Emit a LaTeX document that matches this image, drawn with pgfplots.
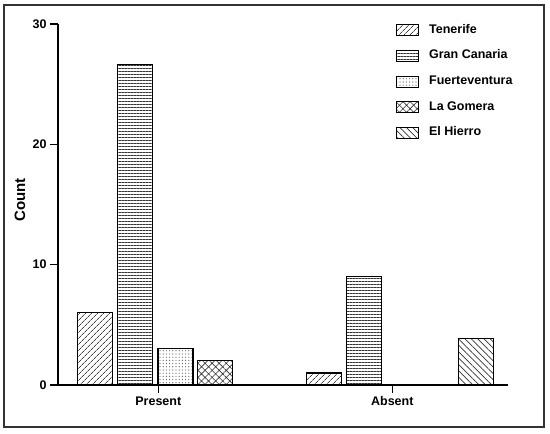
\documentclass[border=0pt]{standalone}
\usepackage{fontspec}
\setmainfont{Liberation Sans}
\usepackage{pgfplots}
\pgfplotsset{compat=1.18}
\usetikzlibrary{patterns.meta}
\pgfplotsset{
  mybar/.style={ybar, bar width=35, bar shift=0pt, draw=black, line width=1.1pt,
    legend image code/.code={\draw[##1,line width=1pt] (0pt,-5.5pt) rectangle (22pt,5.5pt);}},
}
\begin{document}
\begin{tikzpicture}[x=1pt,y=1pt]
\path[use as bounding box] (0,0) rectangle (550,434);
\draw[line width=2pt, black!80] (4,7) rectangle (544,429);
\begin{axis}[
  at={(58pt,49pt)}, anchor=south west,
  scale only axis, width=450pt, height=361pt,
  xmin=58, xmax=508, ymin=0, ymax=30,
  axis x line*=bottom, axis y line*=left,
  axis line style={line width=1.4pt, -},
  ytick={0,10,20,30}, xtick={158.3,392.3}, xticklabels={Present,Absent},
  tick align=outside, major tick length=8pt,
  tick style={line width=1.2pt, black},
  minor tick num=0,
  ticklabel style={font=\fontsize{12.5}{14}\selectfont\bfseries},
  /pgf/number format/assume math mode=true,
  ylabel={Count},
  every axis y label/.style={at={(axis description cs:-0.0844,0.512)}, rotate=90, anchor=center, font=\fontsize{15}{17}\selectfont\bfseries},
  clip=false,
  legend cell align=left,
  legend style={at={(axis description cs:0.751,1.005)}, anchor=north west, draw=none, fill=none,
    inner sep=0pt, row sep=9.6pt, font=\fontsize{12.5}{14}\selectfont\bfseries,
    nodes={inner sep=2pt, text height=9pt, text depth=3pt},
    /tikz/every odd column/.style={column sep=8pt}},
]
\addplot[mybar, pattern={Lines[angle=45,distance=4pt,line width=0.7pt]}, pattern color=black!75]
  coordinates {(95,6) (324,1)};
\addlegendentry{Tenerife}
\addplot[mybar, pattern={Lines[angle=0,distance=3pt,line width=0.7pt]}, pattern color=black!80]
  coordinates {(135.3,26.6) (364.2,9)};
\addlegendentry{Gran Canaria}
\addplot[mybar, pattern={Dots[distance=3.2pt,radius=0.6pt]}, pattern color=black!65]
  coordinates {(175.5,3)};
\addlegendentry{Fuerteventura}
\addplot[mybar, pattern={Hatch[angle=45,distance=5pt,line width=0.6pt]}, pattern color=black!80]
  coordinates {(215.2,2)};
\addlegendentry{La Gomera}
\addplot[mybar, pattern={Lines[angle=-45,distance=4.5pt,line width=0.7pt]}, pattern color=black!80]
  coordinates {(476,3.9)};
\addlegendentry{El Hierro}
\end{axis}
\end{tikzpicture}
\end{document}
